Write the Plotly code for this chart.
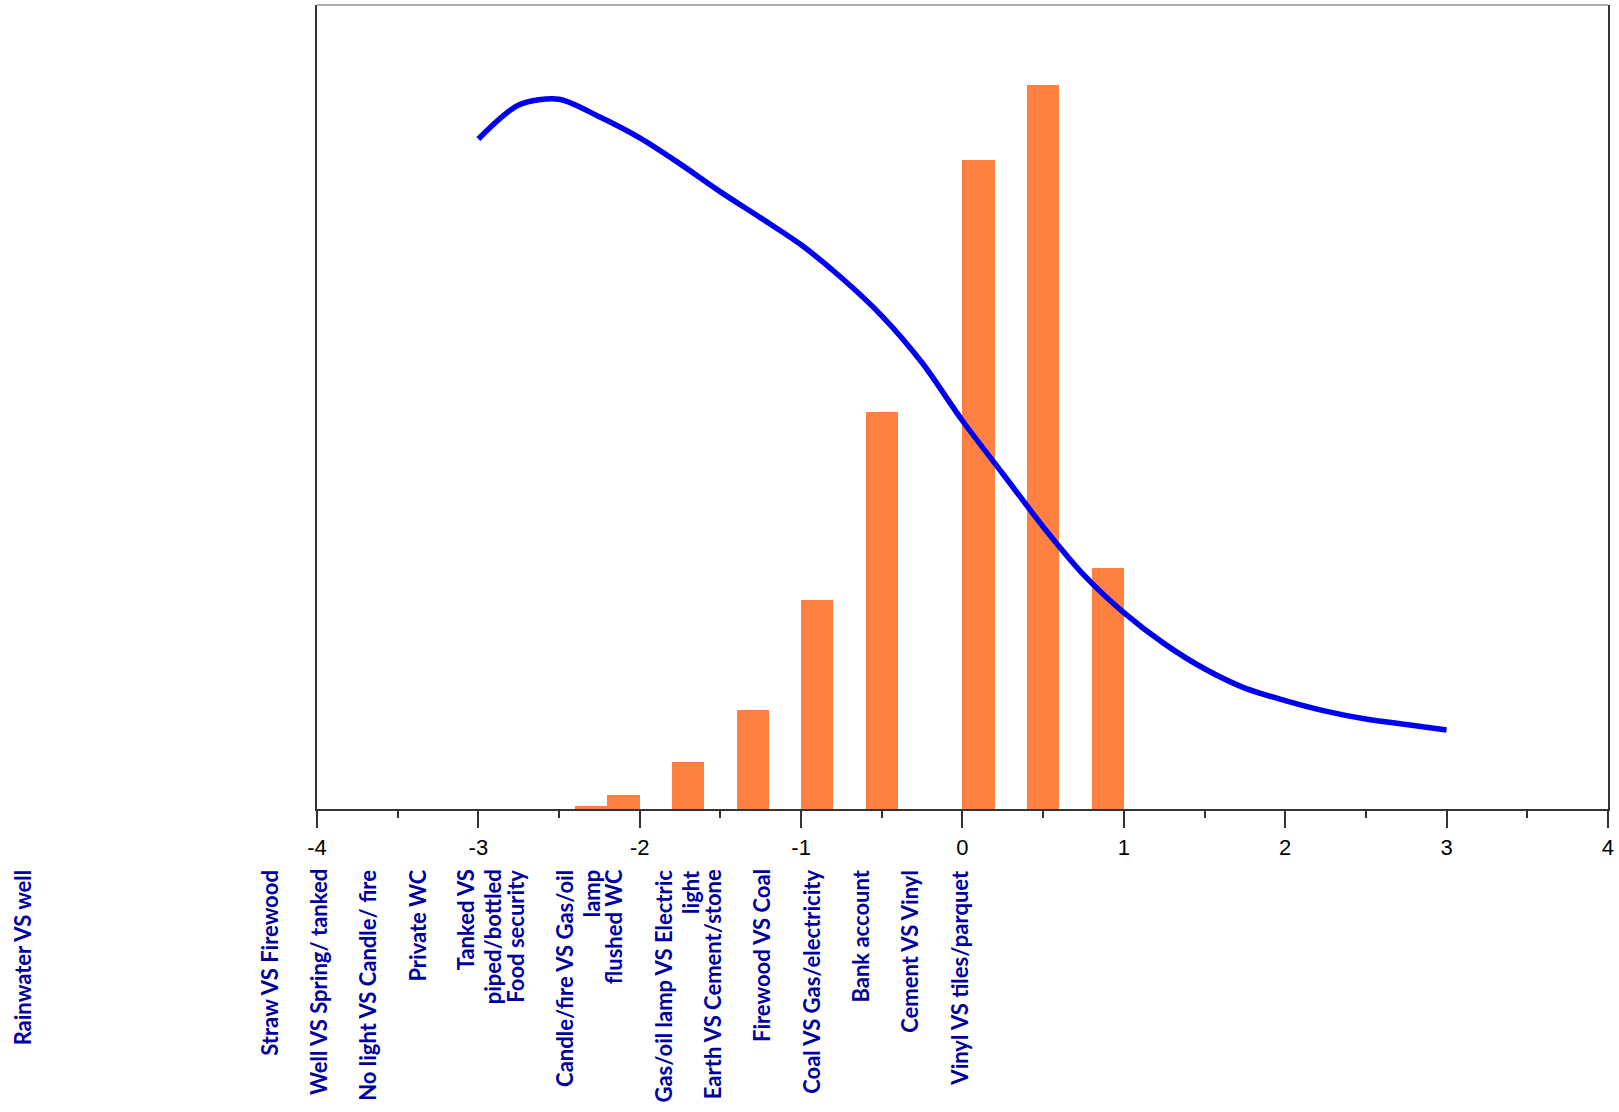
import plotly.graph_objects as go

# ---- data ----
bin_centers = [-2.3, -2.1, -1.7, -1.3, -0.9, -0.5, 0.1, 0.5, 0.9]
bar_heights = [0.35, 1.80, 5.90, 12.28, 26.04, 49.41, 80.73, 90.02, 29.98]

curve_x = [-3.0, -2.75, -2.5, -2.25, -2.0, -1.75, -1.5, -1.25, -1.0, -0.75, -0.5, -0.25,
           0.0, 0.25, 0.5, 0.75, 1.0, 1.25, 1.5, 1.75, 2.0, 2.25, 2.5, 2.75, 3.0]
curve_y = [83.34, 87.57, 88.28, 86.10, 83.47, 80.24, 76.76, 73.52, 70.17, 66.07, 61.34, 55.50,
           48.29, 41.70, 35.11, 29.15, 24.42, 20.57, 17.44, 15.04, 13.49, 12.18, 11.19, 10.50, 9.82]

tick_vals = [-4, -3, -2, -1, 0, 1, 2, 3, 4]
tick_text = ["-4", "-3", "-2", "-1", "0", "1", "2", "3", "4"]
minor_vals = [-3.5, -2.5, -1.5, -0.5, 0.5, 1.5, 2.5, 3.5]

item_labels = [
    "Rainwater VS well", "", "", "", "",
    "Straw VS Firewood",
    "Well VS Spring/ tanked",
    "No light VS Candle/ fire",
    "Private WC",
    "Tanked VS<br>piped/bottled",
    "Food security",
    "Candle/fire VS Gas/oil<br>lamp",
    "flushed WC",
    "Gas/oil lamp VS Electric<br>light",
    "Earth VS Cement/stone",
    "Firewood VS Coal",
    "Coal VS Gas/electricity",
    "Bank account",
    "Cement VS Vinyl",
    "Vinyl VS tiles/parquet",
]

# ---- layout geometry ----
W, H = 1619, 1112
ML, MR, MT, MB = 317, 7, 5, 302.5
plot_w = W - ML - MR
plot_h = H - MT - MB

fig = go.Figure()
fig.add_trace(go.Bar(
    x=bin_centers, y=bar_heights, width=0.2,
    marker=dict(color="#FF8040", line=dict(width=0)),
    hoverinfo="skip"))
fig.add_trace(go.Scatter(
    x=curve_x, y=curve_y, mode="lines",
    line=dict(color="#0000F0", width=5.5, shape="spline", smoothing=0.8),
    hoverinfo="skip"))

# rotated category labels below the axis
label_x0 = 22.0
label_gap = 49.43
line_gap = 27.0
label_top_px = 869.0
annotations = []
for i, lab in enumerate(item_labels):
    if not lab:
        continue
    for j, part in enumerate(lab.split("<br>")):
        px = label_x0 + i * label_gap + j * line_gap
        annotations.append(dict(
            x=(px - ML) / plot_w, xref="paper",
            y=1 - (label_top_px - MT) / plot_h, yref="paper",
            text=part, textangle=-90, showarrow=False,
            xanchor="center", yanchor="top", borderpad=0,
            font=dict(family="Lato", size=22, color="#0000A0", weight="bold")))

fig.update_layout(
    width=W, height=H,
    margin=dict(l=ML, r=MR, t=MT, b=MB),
    paper_bgcolor="white", plot_bgcolor="white",
    showlegend=False,
    bargap=0,
    annotations=annotations,
    shapes=[dict(type="line", xref="paper", yref="paper", x0=0, x1=1, y0=1, y1=1,
                 line=dict(color="#999999", width=1.5))],
    xaxis=dict(
        range=[-4, 4.0005], tickmode="array", tickvals=tick_vals, ticktext=tick_text,
        ticks="outside", ticklen=17, tickwidth=1.5, tickcolor="#333333",
        showline=True, linecolor="#333333", linewidth=1.5, mirror=False,
        showgrid=False, zeroline=False,
        ticklabelstandoff=1,
        tickfont=dict(family="Liberation Sans", size=22, color="black"),
        minor=dict(tickmode="array", tickvals=minor_vals, ticks="outside", ticklen=7,
                   tickwidth=1.5, tickcolor="#333333", showgrid=False),
    ),
    yaxis=dict(
        range=[0, 100], showticklabels=False, ticks="", showgrid=False, zeroline=False,
        showline=True, linecolor="#333333", linewidth=2, mirror=True,
    ),
)

fig.write_html("out.html", config={"displayModeBar": False},
               post_script="document.body.style.margin='0px';")
